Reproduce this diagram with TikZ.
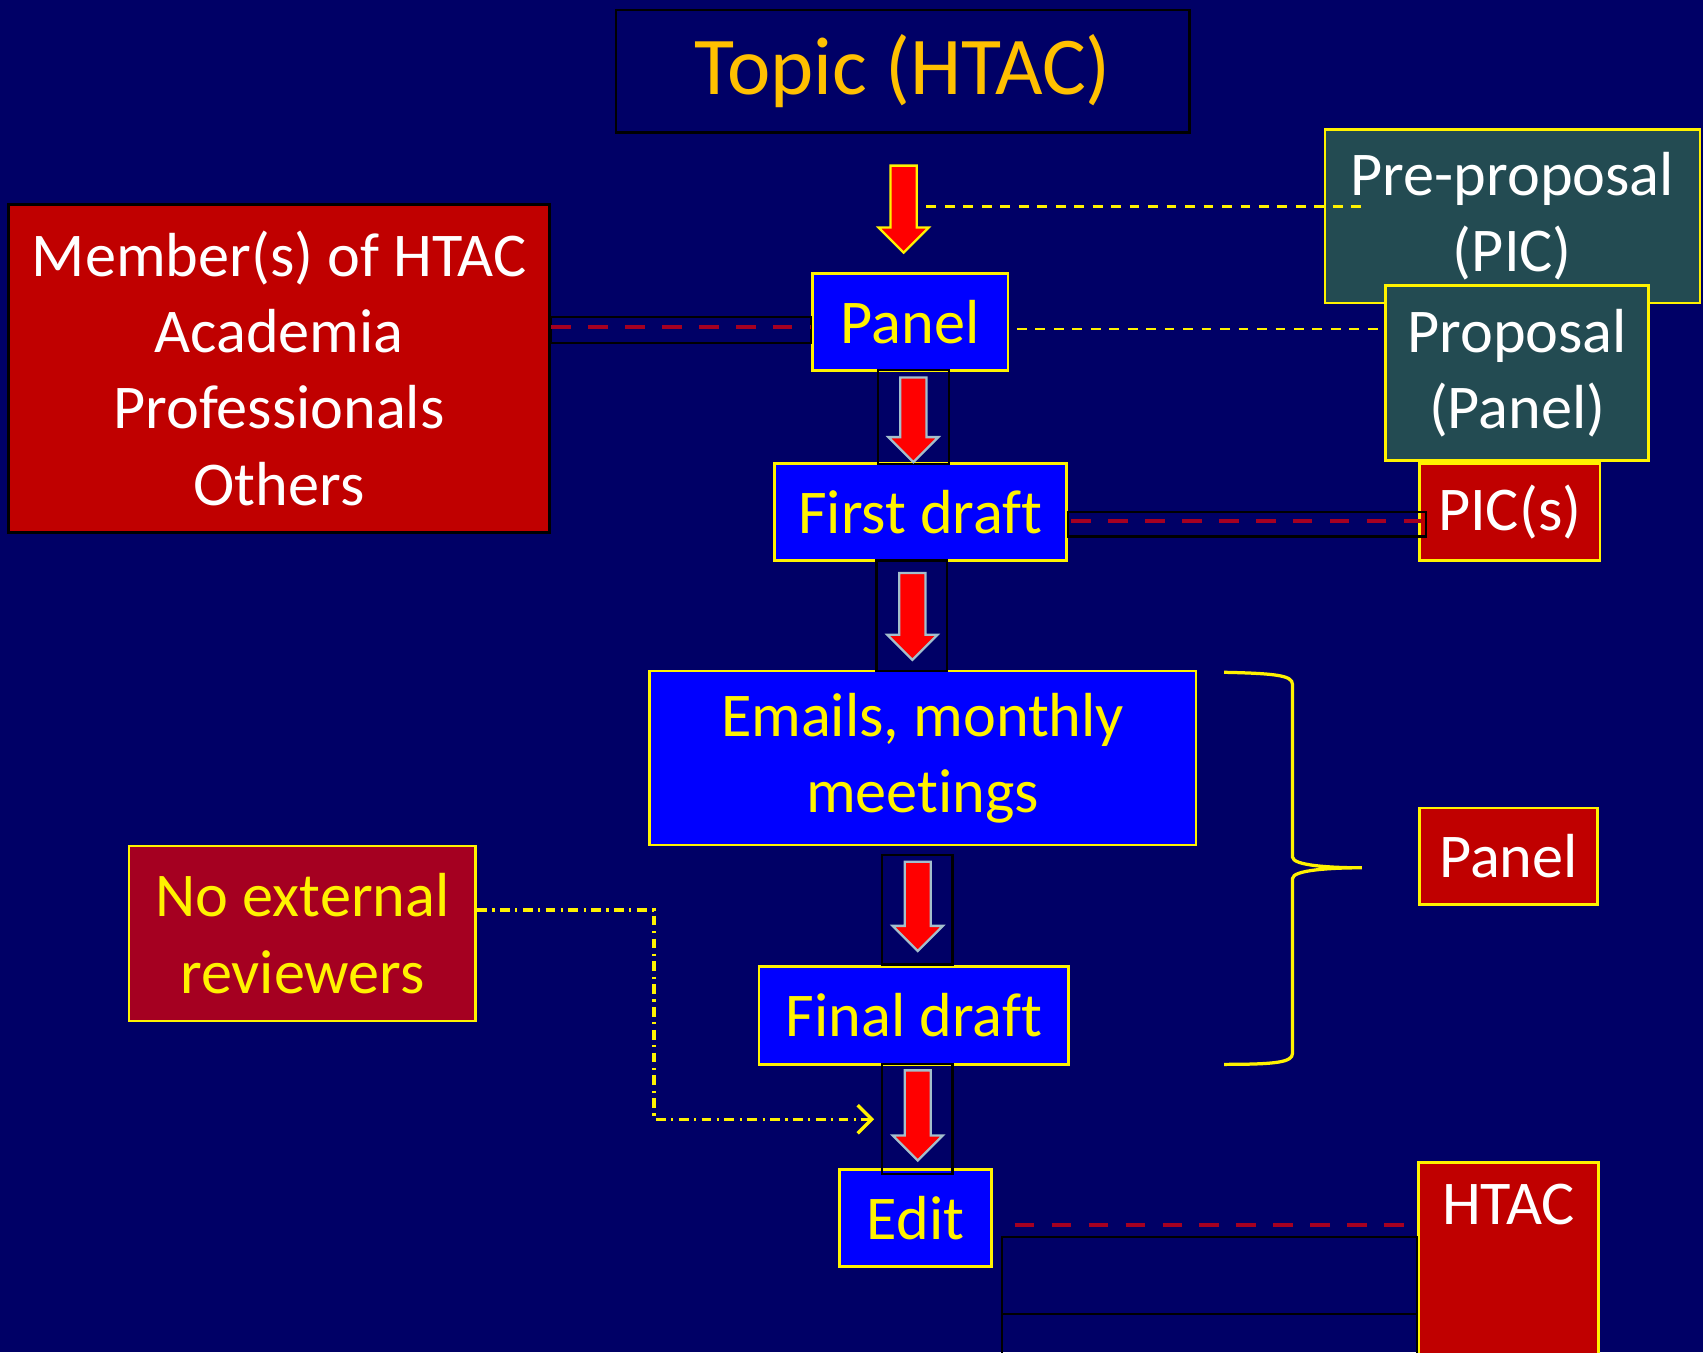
\documentclass[tikz,border=0pt]{standalone}
\usepackage{fontspec}
\setmainfont[Ligatures=NoCommon]{Carlito}
\usepackage{xcolor}
\usetikzlibrary{shapes.arrows, arrows.meta}
\definecolor{navybg}{HTML}{000066}
\definecolor{boxblue}{HTML}{0000FF}
\definecolor{boxred}{HTML}{C00000}
\definecolor{boxcrimson}{HTML}{A50021}
\definecolor{boxslate}{HTML}{234B52}
\definecolor{topicgold}{HTML}{FFC000}
\definecolor{arrowrim}{HTML}{A3BFCC}

\begin{document}
\begin{tikzpicture}[x=0.01cm, y=-0.01cm]

    % Define styles for the boxes, arrows and links
    \tikzstyle{boxtext} = [font=\fontsize{16.3}{20}\selectfont, align=center, inner sep=0pt]
    \tikzstyle{stepblue} = [boxtext, draw=yellow, fill=boxblue, text=yellow, line width=0.7pt, minimum height=0.89cm]
    \tikzstyle{stepred} = [boxtext, draw=yellow, fill=boxred, text=white, line width=0.7pt, minimum height=0.89cm]
    \tikzstyle{stepslate} = [boxtext, draw=yellow, fill=boxslate, text=white, line width=0.7pt, minimum height=1.6cm]
    \tikzstyle{flowarrow} = [single arrow, shape border rotate=270, fill=red, draw=arrowrim, line width=0.6pt, inner sep=0.11cm, single arrow head extend=0.11cm, single arrow head indent=0pt, minimum height=0.8cm]
    \tikzstyle{arrowframe} = [draw=black, line width=0.6pt, minimum width=0.65cm, inner sep=0pt]
    \tikzstyle{blackline} = [draw=black, line width=0.6pt]
    \tikzstyle{reddash} = [line width=1.2pt, boxcrimson, dash pattern=on 0.18cm off 0.16cm]
    \tikzstyle{yellowdash} = [line width=0.7pt, yellow, dash pattern=on 0.09cm off 0.08cm]
    \tikzstyle{reviewline} = [line width=0.9pt, yellow, dash pattern=on 0.09cm off 0.05cm on 0.02cm off 0.05cm, -{Straight Barb[length=0.13cm, width=0.26cm]}]
    \tikzstyle{bracket} = [yellow, line width=0.85pt]

    \useasboundingbox (0,0) rectangle (1568,1245);
    \clip (0,0) rectangle (1568,1245);
    \fill[navybg] (0,0) rectangle (1568,1245);

    \node (topic) [draw=black, line width=0.6pt, minimum width=5.28cm, minimum height=1.13cm, text=topicgold, font=\fontsize{21.5}{24}\selectfont] at (831,65.5) {Topic (HTAC)};
    \node (members) [boxtext, draw=black, line width=0.8pt, fill=boxred, text=white, minimum width=4.98cm, minimum height=3.02cm] at (257,339) {Member(s) of HTAC\\Academia\\Professionals\\Others};
    \node (preprop) [stepslate, minimum width=3.45cm] at (1392.5,199) {Pre-proposal\\(PIC)};
    \node (prop) [stepslate, minimum width=2.42cm, minimum height=1.61cm] at (1397,343.5) {Proposal\\(Panel)};
    \node (panel) [stepblue, minimum width=1.8cm] at (838,296.5) {Panel};
    \node (first) [stepblue, minimum width=2.69cm] at (847.5,471.5) {First draft};
    \node (pics) [stepred, minimum width=1.66cm] at (1390,471.5) {PIC(s)};
    \node (emails) [stepblue, minimum width=5.03cm, minimum height=1.6cm] at (849.5,698) {Emails, monthly\\meetings};
    \node (panelr) [stepred, minimum width=1.64cm] at (1389,788.5) {Panel};
    \node (final) [stepblue, minimum width=2.85cm, minimum height=0.9cm] at (841.5,935) {Final draft};
    \node (edit) [stepblue, minimum width=1.4cm] at (843,1121.5) {Edit};
    \node (noext) [stepblue, fill=boxcrimson, minimum width=3.19cm, minimum height=1.61cm] at (278.5,859.5) {No external\\reviewers};
    \node (htac) [stepred, anchor=north, minimum width=1.66cm, minimum height=0pt, text height=0.57cm, text depth=1.6cm] at (1389,1069) {HTAC};

    \node (a1) [flowarrow, draw=yellow] at (832,186.5) {};
    \node (f2) [arrowframe, minimum height=0.86cm] at (841,384) {};
    \node (a2) [flowarrow, minimum height=0.78cm] at (841,380.5) {};
    \node (f3) [arrowframe, minimum height=1.02cm] at (839.5,567) {};
    \node (a3) [flowarrow] at (840,561.5) {};
    \node (f4) [arrowframe, minimum height=1.01cm] at (844.5,837.5) {};
    \node (a4) [flowarrow, minimum height=0.82cm] at (845,828.5) {};
    \node (f5) [arrowframe, minimum height=1.01cm] at (844.5,1030.5) {};
    \node (a5) [flowarrow, minimum height=0.83cm] at (845,1021) {};

    \draw[yellowdash] ([xshift=0.21cm,yshift=-0.035cm]a1.center) -- ([xshift=0.35cm,yshift=-0.035cm]a1.center -| preprop.west);
    \draw[yellowdash] ([xshift=0.07cm,yshift=-0.065cm]panel.east) -- ([yshift=-0.065cm]panel.east -| prop.west);

    \draw[blackline] ([yshift=0.045cm]panel.west -| members.east) rectangle ([yshift=-0.195cm]panel.west);
    \draw[reddash] ([yshift=-0.045cm]panel.west -| members.east) -- ([yshift=-0.045cm]panel.west);

    \draw[blackline] (first.east) rectangle ([xshift=0.07cm,yshift=-0.225cm]first.east -| pics.west);
    \draw[reddash] ([xshift=0.03cm,yshift=-0.08cm]first.east) -- ([xshift=0.03cm,yshift=-0.08cm]first.east -| pics.west);

    \draw[reddash] ([xshift=0.2cm,yshift=-0.065cm]edit.east) -- ([xshift=-0.06cm,yshift=-0.065cm]edit.east -| htac.west);
    \draw[blackline] ([xshift=0.08cm,yshift=-0.175cm]edit.east) rectangle ([yshift=-1.6cm]edit.east -| htac.west);
    \draw[blackline] ([xshift=0.08cm,yshift=-0.885cm]edit.east) -- ([yshift=-0.885cm]edit.east -| htac.west);

    \draw[reviewline, shorten >=0.06cm] ([yshift=0.215cm]noext.east) -- ++(163,0) |- (f5.west);

    \draw[bracket] (1127,619) .. controls (1175,620) and (1190,622) .. (1190,630) -- (1190,789) .. controls (1190,797) and (1225,799) .. (1254,799) .. controls (1225,799) and (1190,801) .. (1190,809) -- (1190,970) .. controls (1190,978) and (1175,980) .. (1127,980);

\end{tikzpicture}
\end{document}
